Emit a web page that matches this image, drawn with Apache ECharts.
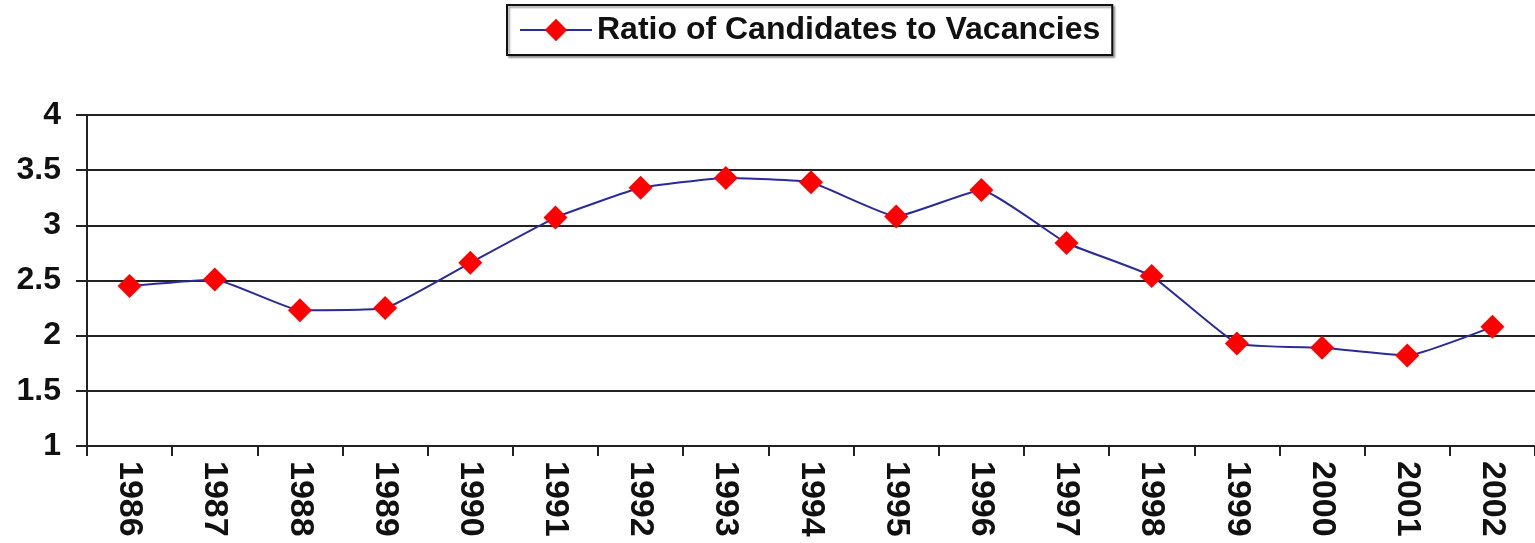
<!DOCTYPE html>
<html>
<head>
<meta charset="utf-8">
<script src="https://cdn.jsdelivr.net/npm/echarts@6/dist/echarts.min.js"></script>
<style>
  html, body { margin: 0; padding: 0; background: #fff; }
  #chart01 { width: 1535px; height: 543px; }
</style>
</head>
<body>
<div id="chart01"></div>
<script>
// data
var years = ['1986','1987','1988','1989','1990','1991','1992','1993','1994',
             '1995','1996','1997','1998','1999','2000','2001','2002'];
var ratio = [2.45, 2.51, 2.23, 2.25, 2.66, 3.07, 3.34, 3.43, 3.39,
             3.08, 3.32, 2.84, 2.54, 1.93, 1.89, 1.82, 2.08];
var seriesName = 'Ratio of Candidates to Vacancies';

var chart01 = echarts.init(document.getElementById('chart01'));
var opt01 = {
    animation: false,
    textStyle: { fontFamily: 'Liberation Sans' },
    legend: {
        top: 5,
        left: 507,
        padding: [9, 12, 9, 12],
        borderColor: '#111',
        borderWidth: 2,
        shadowColor: 'rgba(0,0,0,0.35)',
        shadowOffsetX: 2,
        shadowOffsetY: 2,
        shadowBlur: 2,
        backgroundColor: '#fff',
        itemWidth: 72,
        itemHeight: 28,
        itemGap: 6,
        textStyle: { fontSize: 32, fontWeight: 'bold', color: '#111', fontFamily: 'Liberation Sans' },
        data: [seriesName]
    },
    grid: { left: 87, right: 0, top: 115, bottom: 97 },
    xAxis: {
        type: 'category',
        boundaryGap: true,
        data: years,
        axisLine: { lineStyle: { color: '#222', width: 2 } },
        axisTick: { show: true, length: 10, lineStyle: { color: '#222', width: 2 } },
        axisLabel: {
            rotate: -90,
            margin: 15,
            fontSize: 34,
            fontWeight: 'bold',
            color: '#111',
            fontFamily: 'Liberation Sans'
        }
    },
    yAxis: {
        type: 'value',
        min: 1,
        max: 4,
        interval: 0.5,
        axisLine: { show: true, lineStyle: { color: '#222', width: 2 } },
        axisTick: { show: true, length: 11, inside: false, lineStyle: { color: '#222', width: 2 } },
        splitLine: { show: true, lineStyle: { color: '#222', width: 2 } },
        axisLabel: {
            margin: 26,
            fontSize: 32,
            fontWeight: 'bold',
            color: '#111',
            fontFamily: 'Liberation Sans'
        }
    },
    series: [
        {
            name: seriesName,
            type: 'line',
            data: ratio,
            smooth: 0.12,
            symbol: 'diamond',
            symbolSize: 24,
            itemStyle: { color: '#ff0000' },
            lineStyle: { color: '#2a2a9c', width: 2 }
        }
    ]
};
chart01.setOption(opt01);
</script>
</body>
</html>
